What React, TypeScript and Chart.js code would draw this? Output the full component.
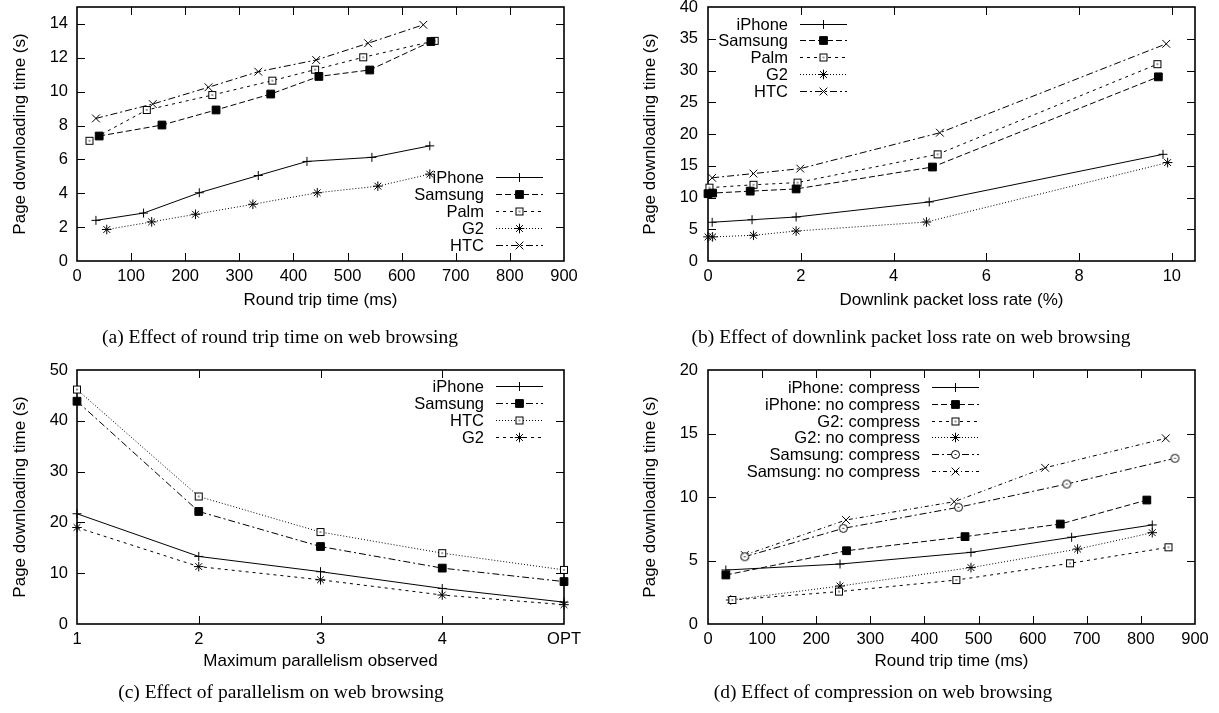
import React, { useEffect, useRef } from 'react';
import { Chart, registerables } from 'chart.js';
import { drawPoint } from 'chart.js/helpers';

Chart.register(...registerables);

// ---------------- DATA ----------------
// (a) round trip time
const aIphoneX = [35, 123, 226, 335, 425, 545, 652];
const aIphoneY = [2.4, 2.83, 4.03, 5.05, 5.88, 6.12, 6.8];
const aSamsungX = [41, 157, 257, 358, 447, 541, 654];
const aSamsungY = [7.38, 8.03, 8.92, 9.86, 10.9, 11.28, 12.96];
const aPalmX = [23, 129, 250, 361, 440, 529, 661];
const aPalmY = [7.1, 8.92, 9.8, 10.65, 11.3, 12.03, 13.0];
const aG2X = [55, 138, 219, 325, 444, 556, 652];
const aG2Y = [1.86, 2.31, 2.76, 3.35, 4.03, 4.42, 5.13];
const aHtcX = [35, 140, 243, 335, 442, 538, 640];
const aHtcY = [8.42, 9.27, 10.26, 11.18, 11.87, 12.86, 13.95];

// (b) downlink packet loss
const bIphoneX = [0.09, 0.95, 1.9, 4.77, 9.81];
const bIphoneY = [6.1, 6.5, 6.93, 9.3, 16.8];
const bSamsungX = [0, 0.1, 0.91, 1.9, 4.84, 9.71];
const bSamsungY = [10.6, 10.7, 11.0, 11.35, 14.8, 29.0];
const bPalmX = [0.03, 0.98, 1.93, 4.95, 9.69];
const bPalmY = [11.55, 12.0, 12.35, 16.8, 31.0];
const bG2X = [0, 0.1, 0.98, 1.9, 4.71, 9.91];
const bG2Y = [3.8, 3.8, 4.05, 4.72, 6.14, 15.5];
const bHtcX = [0.09, 0.98, 1.99, 5.0, 9.88];
const bHtcY = [13.1, 13.77, 14.55, 20.2, 34.2];

// (c) parallelism
const cCategories = ['1', '2', '3', '4', 'OPT'];
const cIphone = [21.7, 13.3, 10.3, 7.0, 4.3];
const cSamsung = [43.85, 22.15, 15.25, 11.0, 8.35];
const cHtc = [46.15, 25.1, 18.1, 13.95, 10.65];
const cG2 = [19.0, 11.3, 8.7, 5.7, 3.8];

// (d) compression
const dIphoneCX = [33, 244, 486, 672, 821];
const dIphoneCY = [4.25, 4.72, 5.64, 6.83, 7.8];
const dIphoneNX = [33, 256, 475, 651, 811];
const dIphoneNY = [3.86, 5.77, 6.88, 7.87, 9.76];
const dG2CX = [45, 242, 459, 669, 851];
const dG2CY = [1.89, 2.55, 3.46, 4.78, 6.04];
const dG2NX = [42, 244, 486, 683, 821];
const dG2NY = [1.89, 2.99, 4.44, 5.9, 7.19];
const dSamsungCX = [68, 250, 463, 663, 863];
const dSamsungCY = [5.3, 7.53, 9.19, 11.02, 13.05];
const dSamsungNX = [68, 255, 455, 623, 846];
const dSamsungNY = [5.43, 8.19, 9.63, 12.3, 14.62];

const legendA = ['iPhone', 'Samsung', 'Palm', 'G2', 'HTC'];
const legendC = ['iPhone', 'Samsung', 'HTC', 'G2'];
const legendD = [
  'iPhone: compress',
  'iPhone: no compress',
  'G2: compress',
  'G2: no compress',
  'Samsung: compress',
  'Samsung: no compress',
];

const xTitles = ['Round trip time (ms)', 'Downlink packet loss rate (%)', 'Maximum parallelism observed', 'Round trip time (ms)'];
const yTitle = 'Page downloading time (s)';
const captions = [
  '(a) Effect of round trip time on web browsing',
  '(b) Effect of downlink packet loss rate on web browsing',
  '(c) Effect of parallelism on web browsing',
  '(d) Effect of compression on web browsing',
];

// ---------------- STYLES ----------------
const SANS = "'Liberation Sans', Arial, Helvetica, sans-serif";
const SERIF = "'Liberation Serif', 'Times New Roman', Times, serif";
const TICK_SIZE = 16.5;
const TITLE_SIZE = 17;
const LEGEND_SIZE = 16.5;

const DASH = {
  solid: [] as number[],
  dashed: [6, 3],
  short: [3, 4],
  dotted: [1, 2],
  dashDot: [7, 3, 2, 3],
  dashDotDot: [4, 3, 1, 3],
};

function markerCanvas(kind: 'box' | 'circle'): HTMLCanvasElement {
  const c = document.createElement('canvas');
  if (kind === 'box') {
    c.width = 10;
    c.height = 10;
    const g = c.getContext('2d')!;
    g.fillStyle = '#fff';
    g.fillRect(1, 1, 8, 8);
    g.strokeStyle = '#000';
    g.lineWidth = 1;
    g.strokeRect(1.5, 1.5, 7, 7);
    g.fillStyle = '#333';
    g.fillRect(4, 4.5, 2, 1);
  } else {
    c.width = 11;
    c.height = 11;
    const g = c.getContext('2d')!;
    g.beginPath();
    g.arc(5.5, 5.5, 4, 0, Math.PI * 2);
    g.fillStyle = '#fff';
    g.fill();
    g.strokeStyle = '#000';
    g.lineWidth = 1;
    g.stroke();
    g.fillStyle = '#333';
    g.fillRect(4.5, 5, 2, 1);
  }
  return c;
}

type Marker = 'plus' | 'fsq' | 'osq' | 'star' | 'x' | 'ocirc';

function markerStyle(m: Marker): { style: any; r: number; fill: string } {
  switch (m) {
    case 'plus':
      return { style: 'cross', r: 4.5, fill: '#000' };
    case 'fsq':
      return { style: 'rect', r: 5.5, fill: '#000' };
    case 'osq':
      return { style: markerCanvas('box'), r: 5, fill: '#fff' };
    case 'star':
      return { style: 'star', r: 4.8, fill: '#000' };
    case 'x':
      return { style: 'crossRot', r: 5.5, fill: '#000' };
    case 'ocirc':
      return { style: markerCanvas('circle'), r: 5, fill: '#fff' };
  }
}

type Series = { label: string; xs?: number[]; ys: number[]; dash: number[]; marker: Marker };

type Panel = {
  left: number;
  top: number;
  width: number;
  height: number;
  padTop: number;
  padRight: number;
  yWidth: number;
  xHeight: number;
  xScale: any;
  yScale: any;
  xTitle: string;
  xTitlePad: number;
  yTitlePad: number;
  xTickPad: number;
  yTickPad: number;
  labels?: string[];
  series: Series[];
  legend: { textRight: number; firstRow: number; rowGap: number };
};

// ---------------- PLUGINS ----------------
const gnuFrame = {
  id: 'gnuFrame',
  beforeDatasetsDraw(chart: any) {
    const { ctx, chartArea, scales } = chart;
    const { left, right, top, bottom } = chartArea;
    const tl = 8;
    ctx.save();
    ctx.strokeStyle = '#000';
    ctx.lineWidth = 1;
    ctx.setLineDash([]);
    ctx.beginPath();
    const xs = scales.x;
    xs.ticks.forEach((_t: any, i: number) => {
      const px = Math.round(xs.getPixelForTick(i)) + 0.5;
      if (px - left < 3 || right - px < 3) return;
      ctx.moveTo(px, bottom);
      ctx.lineTo(px, bottom - tl);
      ctx.moveTo(px, top);
      ctx.lineTo(px, top + tl);
    });
    const ys = scales.y;
    ys.ticks.forEach((_t: any, i: number) => {
      const py = Math.round(ys.getPixelForTick(i)) + 0.5;
      if (py - top < 3 || bottom - py < 3) return;
      ctx.moveTo(left, py);
      ctx.lineTo(left + tl, py);
      ctx.moveTo(right, py);
      ctx.lineTo(right - tl, py);
    });
    ctx.stroke();
    ctx.lineWidth = 1.6;
    ctx.strokeRect(left, top, right - left, bottom - top);
    ctx.restore();
  },
};

const gnuLegend = {
  id: 'gnuLegend',
  afterDatasetsDraw(chart: any, _args: any, opts: any) {
    const { ctx, chartArea } = chart;
    ctx.save();
    ctx.font = `${LEGEND_SIZE}px ${SANS}`;
    ctx.textAlign = 'right';
    ctx.textBaseline = 'middle';
    chart.data.datasets.forEach((ds: any, i: number) => {
      const y = Math.round(chartArea.top + opts.firstRow + i * opts.rowGap);
      const xr = chartArea.left + opts.textRight;
      ctx.fillStyle = '#000';
      ctx.fillText(ds.label, xr, y + 1);
      const x0 = xr + 12;
      const x1 = xr + 59;
      ctx.strokeStyle = '#000';
      ctx.lineWidth = 1;
      ctx.setLineDash(ds.borderDash || []);
      ctx.beginPath();
      ctx.moveTo(x0, y + 0.5);
      ctx.lineTo(x1, y + 0.5);
      ctx.stroke();
      ctx.setLineDash([]);
      ctx.fillStyle = ds.pointBackgroundColor;
      drawPoint(
        ctx,
        { pointStyle: ds.pointStyle, rotation: 0, radius: ds.pointRadius, borderWidth: 1 } as any,
        (x0 + x1) / 2,
        y + 0.5
      );
    });
    ctx.restore();
  },
};

// ---------------- PANELS ----------------
const panels: Panel[] = [
  {
    left: 0, top: 0, width: 600, height: 320,
    padTop: 7, padRight: 36, yWidth: 77, xHeight: 59,
    xScale: { type: 'linear', min: 0, max: 900, ticks: { stepSize: 100 } },
    yScale: { type: 'linear', min: 0, max: 15, ticks: { stepSize: 2, includeBounds: false } },
    xTitle: xTitles[0], xTitlePad: 9, yTitlePad: 10, xTickPad: 6, yTickPad: 9,
    series: [
      { label: legendA[0], xs: aIphoneX, ys: aIphoneY, dash: DASH.solid, marker: 'plus' },
      { label: legendA[1], xs: aSamsungX, ys: aSamsungY, dash: DASH.dashed, marker: 'fsq' },
      { label: legendA[2], xs: aPalmX, ys: aPalmY, dash: DASH.short, marker: 'osq' },
      { label: legendA[3], xs: aG2X, ys: aG2Y, dash: DASH.dotted, marker: 'star' },
      { label: legendA[4], xs: aHtcX, ys: aHtcY, dash: DASH.dashDot, marker: 'x' },
    ],
    legend: { textRight: 407, firstRow: 170, rowGap: 17 },
  },
  {
    left: 600, top: 0, width: 619, height: 320,
    padTop: 7, padRight: 24, yWidth: 108, xHeight: 59,
    xScale: { type: 'linear', min: 0, max: 10.5, ticks: { stepSize: 2, includeBounds: false } },
    yScale: { type: 'linear', min: 0, max: 40, ticks: { stepSize: 5 } },
    xTitle: xTitles[1], xTitlePad: 9, yTitlePad: 40, xTickPad: 6, yTickPad: 10,
    series: [
      { label: legendA[0], xs: bIphoneX, ys: bIphoneY, dash: DASH.solid, marker: 'plus' },
      { label: legendA[1], xs: bSamsungX, ys: bSamsungY, dash: DASH.dashed, marker: 'fsq' },
      { label: legendA[2], xs: bPalmX, ys: bPalmY, dash: DASH.short, marker: 'osq' },
      { label: legendA[3], xs: bG2X, ys: bG2Y, dash: DASH.dotted, marker: 'star' },
      { label: legendA[4], xs: bHtcX, ys: bHtcY, dash: DASH.dashDot, marker: 'x' },
    ],
    legend: { textRight: 80, firstRow: 16.5, rowGap: 16.8 },
  },
  {
    left: 0, top: 320, width: 600, height: 393,
    padTop: 50, padRight: 36, yWidth: 77, xHeight: 89,
    xScale: { type: 'category', offset: false, ticks: {} },
    yScale: { type: 'linear', min: 0, max: 50, ticks: { stepSize: 10 } },
    xTitle: xTitles[2], xTitlePad: 41, yTitlePad: 10, xTickPad: 6, yTickPad: 9,
    labels: cCategories,
    series: [
      { label: legendC[0], ys: cIphone, dash: DASH.solid, marker: 'plus' },
      { label: legendC[1], ys: cSamsung, dash: DASH.dashDot, marker: 'fsq' },
      { label: legendC[2], ys: cHtc, dash: DASH.dotted, marker: 'osq' },
      { label: legendC[3], ys: cG2, dash: DASH.short, marker: 'star' },
    ],
    legend: { textRight: 407, firstRow: 16, rowGap: 16.9 },
  },
  {
    left: 600, top: 320, width: 619, height: 393,
    padTop: 50, padRight: 24, yWidth: 108, xHeight: 89,
    xScale: { type: 'linear', min: 0, max: 900, ticks: { stepSize: 100 } },
    yScale: { type: 'linear', min: 0, max: 20, ticks: { stepSize: 5 } },
    xTitle: xTitles[3], xTitlePad: 41, yTitlePad: 40, xTickPad: 6, yTickPad: 10,
    series: [
      { label: legendD[0], xs: dIphoneCX, ys: dIphoneCY, dash: DASH.solid, marker: 'plus' },
      { label: legendD[1], xs: dIphoneNX, ys: dIphoneNY, dash: DASH.dashed, marker: 'fsq' },
      { label: legendD[2], xs: dG2CX, ys: dG2CY, dash: DASH.short, marker: 'osq' },
      { label: legendD[3], xs: dG2NX, ys: dG2NY, dash: DASH.dotted, marker: 'star' },
      { label: legendD[4], xs: dSamsungCX, ys: dSamsungCY, dash: DASH.dashDot, marker: 'ocirc' },
      { label: legendD[5], xs: dSamsungNX, ys: dSamsungNY, dash: DASH.dashDotDot, marker: 'x' },
    ],
    legend: { textRight: 212, firstRow: 17.3, rowGap: 16.7 },
  },
];

const captionPos = [
  { cx: 280, cy: 337 },
  { cx: 911, cy: 337 },
  { cx: 281, cy: 692 },
  { cx: 883, cy: 692 },
];

function buildConfig(p: Panel): any {
  const datasets = p.series.map((s) => {
    const m = markerStyle(s.marker);
    const data = s.xs ? s.xs.map((x, i) => ({ x, y: s.ys[i] })) : s.ys;
    return {
      label: s.label,
      data,
      borderColor: '#000',
      borderWidth: 1,
      borderDash: s.dash,
      tension: 0,
      fill: false,
      pointStyle: m.style,
      pointRadius: m.r,
      pointBorderWidth: 1,
      pointBorderColor: '#000',
      pointBackgroundColor: m.fill,
      clip: false,
    };
  });
  const zeroPad = (s: any) => {
    s.paddingLeft = 0;
    s.paddingRight = 0;
    s.paddingTop = 0;
    s.paddingBottom = 0;
  };
  return {
    type: 'line',
    data: { labels: p.labels, datasets },
    options: {
      responsive: false,
      maintainAspectRatio: false,
      animation: false,
      events: [],
      layout: { padding: { top: p.padTop, right: p.padRight, left: 0, bottom: 0 } },
      plugins: {
        legend: { display: false },
        tooltip: { enabled: false },
        gnuLegend: p.legend,
      },
      scales: {
        x: {
          ...p.xScale,
          position: 'bottom',
          grid: { display: false, drawTicks: false },
          border: { display: false },
          ticks: {
            ...p.xScale.ticks,
            color: '#000',
            padding: p.xTickPad,
            maxRotation: 0,
            autoSkip: false,
            font: { size: TICK_SIZE, family: SANS },
          },
          title: {
            display: true,
            text: p.xTitle,
            color: '#000',
            font: { size: TITLE_SIZE, family: SANS },
            padding: { top: 0, bottom: p.xTitlePad },
          },
          afterFit: (s: any) => {
            s.height = p.xHeight;
            zeroPad(s);
          },
        },
        y: {
          ...p.yScale,
          position: 'left',
          grid: { display: false, drawTicks: false },
          border: { display: false },
          ticks: {
            ...p.yScale.ticks,
            color: '#000',
            padding: p.yTickPad,
            autoSkip: false,
            font: { size: TICK_SIZE, family: SANS },
          },
          title: {
            display: true,
            text: yTitle,
            color: '#000',
            font: { size: TITLE_SIZE, family: SANS },
            padding: { top: p.yTitlePad, bottom: 0 },
          },
          afterFit: (s: any) => {
            s.width = p.yWidth;
            zeroPad(s);
          },
        },
      },
    },
    plugins: [gnuFrame, gnuLegend],
  };
}

function PanelChart({ p }: { p: Panel }) {
  const ref = useRef<HTMLCanvasElement | null>(null);
  useEffect(() => {
    if (!ref.current) return;
    const chart = new Chart(ref.current, buildConfig(p));
    return () => chart.destroy();
  }, [p]);
  return (
    <canvas
      ref={ref}
      width={p.width}
      height={p.height}
      style={{ position: 'absolute', left: p.left, top: p.top, width: p.width, height: p.height }}
    />
  );
}

export default function App() {
  return (
    <div
      style={{
        position: 'absolute',
        left: 0,
        top: 0,
        width: 1219,
        height: 713,
        background: '#fff',
        overflow: 'hidden',
      }}
    >
      {panels.map((p, i) => (
        <PanelChart key={i} p={p} />
      ))}
      {captions.map((t, i) => (
        <div
          key={'c' + i}
          style={{
            position: 'absolute',
            left: captionPos[i].cx,
            top: captionPos[i].cy,
            transform: 'translate(-50%, -50%)',
            fontFamily: SERIF,
            fontSize: 19.5,
            color: '#000',
            whiteSpace: 'nowrap',
            lineHeight: 1,
          }}
        >
          {t}
        </div>
      ))}
    </div>
  );
}
